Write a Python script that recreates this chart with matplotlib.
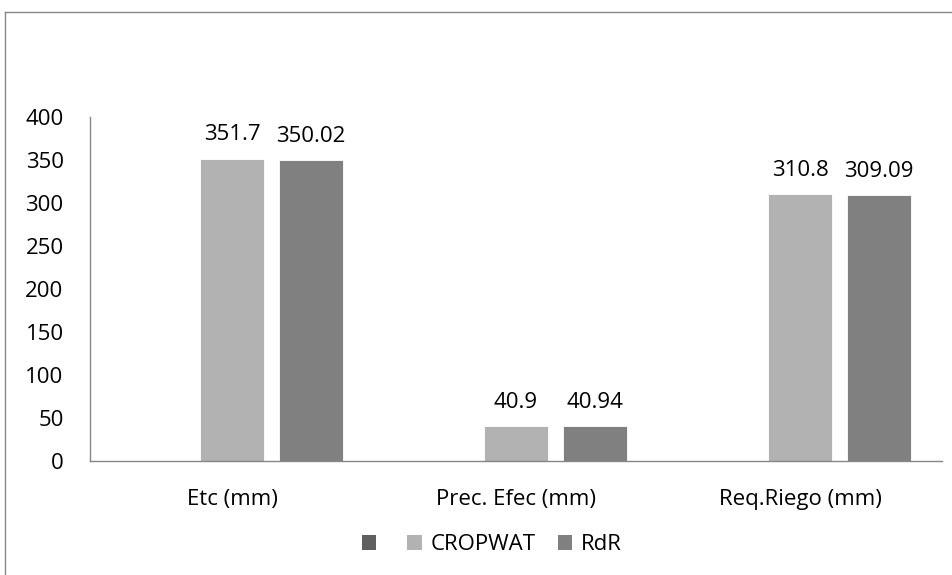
import matplotlib
matplotlib.use("Agg")
import matplotlib.pyplot as plt
from matplotlib.patches import Patch
from matplotlib.lines import Line2D
import numpy as np

plt.rcParams['font.family'] = ['Open Sans', 'DejaVu Sans']

categories = ["Etc (mm)", "Prec. Efec (mm)", "Req.Riego (mm)"]
series_names = ["", "CROPWAT", "RdR"]
serie0 = [0, 0, 0]
cropwat = [351.7, 40.9, 310.8]
rdr = [350.02, 40.94, 309.09]
cropwat_labels = ["351.7", "40.9", "310.8"]
rdr_labels = ["350.02", "40.94", "309.09"]
yticks = [0, 50, 100, 150, 200, 250, 300, 350, 400]

colors = ["#606060", "#B2B2B2", "#808080"]

fig = plt.figure(figsize=(9.53, 5.75), dpi=100)
ax = fig.add_axes([90/953, 1-461/575, (942-90)/953, (461-117)/575])

x = np.arange(len(categories))
w = 0.226
step = 0.279
bars = []
for i, (vals, c) in enumerate(zip([serie0, cropwat, rdr], colors)):
    b = ax.bar(x + (i-1)*step, vals, w, color=c, edgecolor='white', linewidth=0.6)
    bars.append(b)

fs = 16
for b, labs in [(bars[1], cropwat_labels), (bars[2], rdr_labels)]:
    for rect, lab in zip(b, labs):
        ax.annotate(lab, (rect.get_x()+rect.get_width()/2, rect.get_height()),
                    xytext=(0, 13), textcoords='offset points', ha='center', va='baseline',
                    fontsize=fs, color='black')

ax.set_xlim(-0.5, 2.5)
ax.set_ylim(0, 400)
ax.set_yticks(yticks)
ax.set_xticks(x)
ax.set_xticklabels(categories)
ax.tick_params(axis='both', length=0, labelsize=fs)
ax.tick_params(axis='y', pad=19)
ax.tick_params(axis='x', pad=20)
for lab in ax.get_yticklabels():
    lab.set_horizontalalignment('right')
ax.spines['top'].set_visible(False)
ax.spines['right'].set_visible(False)
for s in ['left', 'bottom']:
    ax.spines[s].set_color('#868686')
    ax.spines[s].set_linewidth(1.0)

handles = [Patch(facecolor=c, edgecolor='none') for c in colors]
fig.legend(handles, series_names, loc='center', bbox_to_anchor=(492/953, 1-545/575),
           ncol=3, frameon=False, fontsize=fs, handlelength=0.65, handleheight=0.65,
           handletextpad=0.4, columnspacing=1.0, borderpad=0)

# outer chart border
fig.add_artist(Line2D([5/953, 5/953], [0, 1-12/575], color='#868686', lw=1.0, transform=fig.transFigure))
fig.add_artist(Line2D([5/953, 1], [1-12/575, 1-12/575], color='#868686', lw=1.0, transform=fig.transFigure))

fig.savefig("out.png", dpi=100)
